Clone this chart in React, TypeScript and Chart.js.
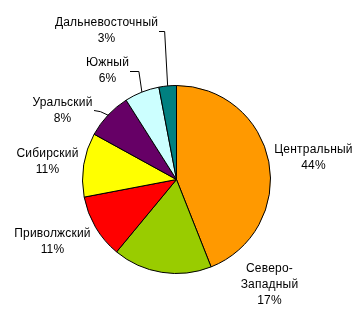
import React, { useEffect, useRef } from "react";
import { Chart, registerables } from "chart.js";

Chart.register(...registerables);

// Регионы и их доли, %
const regions = [
  "Центральный",
  "Северо-Западный",
  "Приволжский",
  "Сибирский",
  "Уральский",
  "Южный",
  "Дальневосточный",
];
const shares = [44, 17, 11, 11, 8, 6, 3];
const labelLines = [
  ["Центральный", "44%"],
  ["Северо-", "Западный", "17%"],
  ["Приволжский", "11%"],
  ["Сибирский", "11%"],
  ["Уральский", "8%"],
  ["Южный", "6%"],
  ["Дальневосточный", "3%"],
];
const sliceColors = [
  "#FF9900",
  "#99CC00",
  "#FF0000",
  "#FFFF00",
  "#660066",
  "#CCFFFF",
  "#008080",
];

// Label anchor offsets from the pie centre (text block centre), and leader style
const labelLayout = [
  { dx: 137, dy: -22, leader: "none" },
  { dx: 93, dy: 105, leader: "none" },
  { dx: -124, dy: 62, leader: "none" },
  { dx: -129, dy: -18, leader: "none" },
  { dx: -114, dy: -69, leader: "bent" },
  { dx: -69, dy: -109, leader: "elbow" },
  { dx: -70, dy: -149, leader: "elbow" },
];

const FONT = "12px 'Liberation Sans', Arial, sans-serif";
const LINE_H = 16;

const outsideLabels = {
  id: "outsideLabels",
  afterDatasetsDraw(chart: any) {
    const ctx = chart.ctx as CanvasRenderingContext2D;
    const meta = chart.getDatasetMeta(0);
    ctx.save();
    ctx.font = FONT;
    (ctx as any).letterSpacing = "0.2px";
    ctx.fillStyle = "#000";
    ctx.strokeStyle = "#000";
    ctx.lineWidth = 1;
    ctx.textAlign = "center";
    ctx.textBaseline = "middle";
    meta.data.forEach((arc: any, i: number) => {
      const { x, y, startAngle, endAngle, outerRadius } = arc.getProps(
        ["x", "y", "startAngle", "endAngle", "outerRadius"],
        true
      );
      const lay = labelLayout[i];
      const lines = labelLines[i];
      const cx = x + lay.dx;
      const cy = y + lay.dy;
      const top = cy - ((lines.length - 1) * LINE_H) / 2;
      lines.forEach((t, k) => ctx.fillText(t, cx, top + k * LINE_H));

      // leader from the label to the middle of the slice's rim
      const mid = (startAngle + endAngle) / 2;
      const ex = x + Math.cos(mid) * outerRadius;
      const ey = y + Math.sin(mid) * outerRadius;
      const w = ctx.measureText(lines[0]).width;
      if (lay.leader === "elbow") {
        const sx = Math.round(cx + w / 2 + 1);
        const sy = Math.round(top + LINE_H / 2) + 0.5;
        ctx.beginPath();
        ctx.moveTo(sx, sy);
        ctx.lineTo(ex - 3, sy);
        ctx.lineTo(ex, ey);
        ctx.stroke();
      } else if (lay.leader === "bent") {
        const sx = Math.round(cx + w / 2 + 1);
        const sy = Math.round(top + 7) + 0.5;
        ctx.beginPath();
        ctx.moveTo(sx, sy);
        ctx.quadraticCurveTo(sx + 6, sy, ex, ey);
        ctx.stroke();
      }
    });
    ctx.restore();
  },
};

export default function App() {
  const ref = useRef<HTMLCanvasElement | null>(null);

  useEffect(() => {
    document.body.style.margin = "0";
    const chart = new Chart(ref.current as HTMLCanvasElement, {
      type: "pie",
      data: {
        labels: regions,
        datasets: [
          {
            data: shares,
            backgroundColor: sliceColors,
            borderColor: "#000",
            borderWidth: 1,
          },
        ],
      },
      options: {
        responsive: false,
        animation: false,
        layout: { padding: { top: 85, bottom: 44, left: 82, right: 89 } },
        plugins: {
          legend: { display: false },
          tooltip: { enabled: false },
        },
      },
      plugins: [outsideLabels],
    });
    return () => chart.destroy();
  }, []);

  return (
    <div style={{ width: 360, height: 318, background: "#fff" }}>
      <canvas ref={ref} width={360} height={318} />
    </div>
  );
}
